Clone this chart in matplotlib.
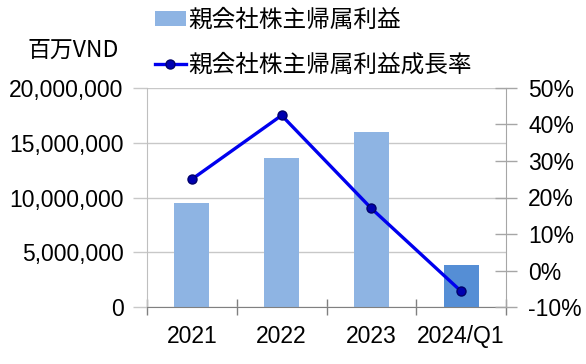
import matplotlib
matplotlib.use("Agg")
import matplotlib.pyplot as plt
from matplotlib.ticker import FuncFormatter, MultipleLocator, FixedLocator
from matplotlib.lines import Line2D
from matplotlib.patches import Patch

categories = ["2021", "2022", "2023", "2024/Q1"]
profit = [9520000, 13580000, 15980000, 3800000]
growth = [25.0, 42.5, 17.0, -5.7]
bar_colors = ["#8EB4E3", "#8EB4E3", "#8EB4E3", "#558ED5"]
bar_label = "親会社株主帰属利益"
line_label = "親会社株主帰属利益成長率"
unit_label = "百万VND"

plt.rcParams['font.family'] = ['Liberation Sans', 'Noto Sans CJK JP', 'DejaVu Sans']

W, H = 586, 364
fig = plt.figure(figsize=(W/100, H/100), dpi=100)
L, R, B, T = 147, 506, 307, 88
ax = fig.add_axes([L/W, 1 - B/H, (R-L)/W, (B-T)/H])
ax2 = ax.twinx()

x = list(range(len(categories)))
ax.bar(x, profit, width=0.39, color=bar_colors, zorder=2)
ax.set_xlim(-0.5, 3.5)
ax.set_ylim(0, 20000000)
ax.yaxis.set_major_locator(MultipleLocator(5000000))
ax.yaxis.set_major_formatter(FuncFormatter(lambda v, p: f"{int(v):,}"))
ax.grid(axis='y', color='#C8C8C8', linewidth=1.0, zorder=0)
ax.set_axisbelow(True)

ax2.plot(x, growth, color='#0000EE', linewidth=2.4, marker='o', markersize=6.5,
         markerfacecolor='#0000B0', markeredgecolor='#00006A', zorder=5)
ax2.set_ylim(-10, 50)
ax2.yaxis.set_major_locator(MultipleLocator(10))
ax2.yaxis.set_major_formatter(FuncFormatter(lambda v, p: f"{int(round(v))}%"))

ax.set_xticks(x)
ax.set_xticklabels(categories)
ax.xaxis.set_minor_locator(FixedLocator([-0.5, 0.5, 1.5, 2.5, 3.5]))
ax.tick_params(axis='x', which='major', length=0, pad=13, labelsize=16.5)
ax.tick_params(axis='x', which='minor', direction='inout', length=12, color='#808080', width=1)
ax.tick_params(axis='y', direction='out', length=10, color='#C8C8C8', width=1, labelsize=16.5, pad=7)
ax2.tick_params(axis='y', direction='inout', length=16, color='#A6A6A6', width=1, labelsize=16.5, pad=8)

for a in (ax, ax2):
    a.spines['top'].set_visible(False)
    a.spines['left'].set_color('#BFBFBF')
    a.spines['right'].set_color('#A6A6A6')
    a.spines['bottom'].set_color('#808080')
ax2.spines['bottom'].set_visible(False)
ax2.spines['left'].set_visible(False)
ax.spines['right'].set_visible(False)

fig.text(73/W, 1 - 50/H, unit_label, ha='center', va='center', fontsize=16.5,
         family=['Noto Sans CJK JP', 'Liberation Sans'])

handles = [Patch(facecolor='#8EB4E3', edgecolor='none'),
           Line2D([0], [0], color='#0000EE', linewidth=2.4, marker='o', markersize=6.5,
                  markerfacecolor='#0000B0', markeredgecolor='#00006A')]
leg = fig.legend(handles, [bar_label, line_label], loc='upper left',
                 bbox_to_anchor=(155/W, 1 - 9/H), frameon=False,
                 prop={'family': ['Noto Sans CJK JP', 'Liberation Sans'], 'size': 17},
                 handlelength=1.3, handleheight=0.6, handletextpad=0.1, labelspacing=0.93,
                 borderaxespad=0, borderpad=0)

fig.savefig("out.png", dpi=100, facecolor='white')
